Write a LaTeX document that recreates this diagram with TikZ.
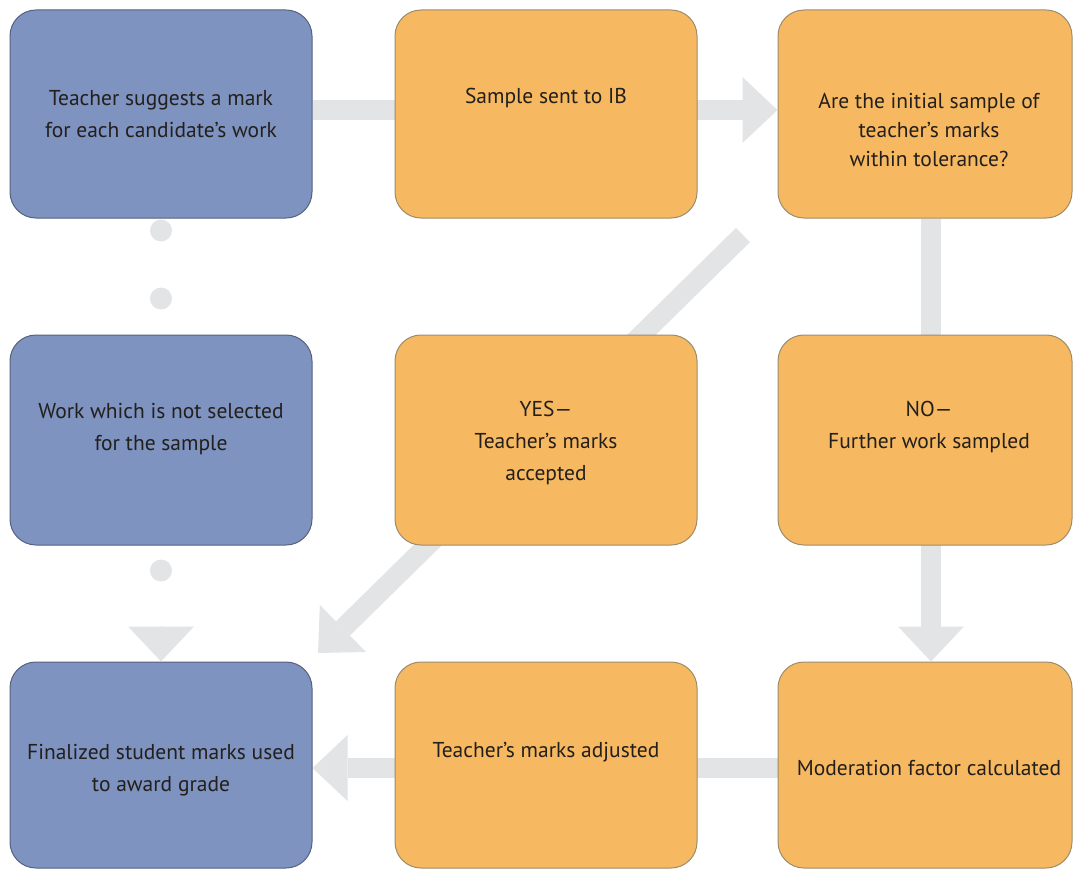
\documentclass[tikz,border=0pt]{standalone}
\usepackage{fontspec}
\setmainfont{PT Sans}
\usetikzlibrary{arrows.meta,calc}
\definecolor{boxblue}{HTML}{7E93C0}
\definecolor{blueline}{HTML}{56617F}
\definecolor{boxorange}{HTML}{F6B860}
\definecolor{orangeline}{HTML}{9C8C6C}
\definecolor{bandgray}{HTML}{E3E4E6}
\definecolor{txtcol}{HTML}{231F1C}
\pgfdeclarelayer{bg}
\pgfsetlayers{bg,main}
\tikzset{
  box/.style={rounded corners=26pt, inner sep=0pt, line width=1pt, minimum width=302pt, minimum height=208pt},
  bluebox/.style={box, fill=boxblue, draw=blueline},
  orangebox/.style={box, fill=boxorange, draw=orangeline},
  txt/.style={text=txtcol, align=center, inner sep=0pt, font=\fontsize{21.5}{32}\selectfont},
  bandtip/.style={-{Triangle[width=66pt,length=35pt,line width=0pt]}},
  band/.style={draw=bandgray, line width=20pt, bandtip, bandgray},
  dots/.style={draw=bandgray, line width=22pt, line cap=round, dash pattern=on 0pt off 68pt},
}
\begin{document}
\begin{tikzpicture}[x=1pt,y=-1pt]
\useasboundingbox (0,0) rectangle (1073,869);
% boxes
\node[bluebox] (b1) at (161,114) {};
\node[orangebox] (b2) at (546,114) {};
\node[orangebox, minimum width=294pt] (b3) at (925,114) {};
\node[bluebox, minimum height=210pt] (b4) at (161,440) {};
\node[orangebox, minimum height=210pt] (b5) at (546,440) {};
\node[orangebox, minimum width=294pt, minimum height=210pt] (b6) at (925,440) {};
\node[bluebox, minimum height=206pt] (b7) at (161,765) {};
\node[orangebox, minimum height=206pt] (b8) at (546,765) {};
\node[orangebox, minimum width=294pt, minimum height=206pt] (b9) at (925,765) {};
% texts
\node[txt] (t1) at (161,114) {Teacher suggests a mark\\for each candidate’s work};
\node[txt] (t2) at (546,98) {Sample sent to IB};
\node[txt, font=\fontsize{21.5}{29}\selectfont] (t3) at (929,130) {Are the initial sample of\\teacher’s marks\\within tolerance?};
\node[txt] (t4) at (161,429) {Work which is not selected\\for the sample};
\node[txt] (t5) at (546,443) {YES—\\Teacher’s marks\\accepted};
\node[txt] (t6) at (929,427) {NO—\\Further work sampled};
\node[txt] (t7) at (161,770) {Finalized student marks used\\to award grade};
\node[txt] (t8) at (546,752) {Teacher’s marks adjusted};
\node[txt] (t9) at (929,768) {Moderation factor calculated};
% connectors
\coordinate (yesStart) at (743,235);
\coordinate (yesEnd) at (318,653);
\begin{pgfonlayer}{bg}
\draw[band] ([yshift=4pt]b1.east) -- ([yshift=4pt]b3.west);
\draw[band] ([xshift=6pt]b3.south) -- ([xshift=6pt]b9.north);
\draw[band] ([yshift=-3pt]b9.west) -- ([yshift=-3pt]b7.east);
\draw[band] (yesStart) -- (yesEnd);
\draw[dots, dash phase=56pt] (b1.south) -- (b4.north);
\draw[dots, dash phase=43pt, shorten >=60pt] (b4.south) -- (b7.north);
\draw[draw=bandgray, fill=bandgray, line width=1pt, bandtip, shorten <=80pt] (b4.south) -- (b7.north);
\end{pgfonlayer}
\end{tikzpicture}
\end{document}
